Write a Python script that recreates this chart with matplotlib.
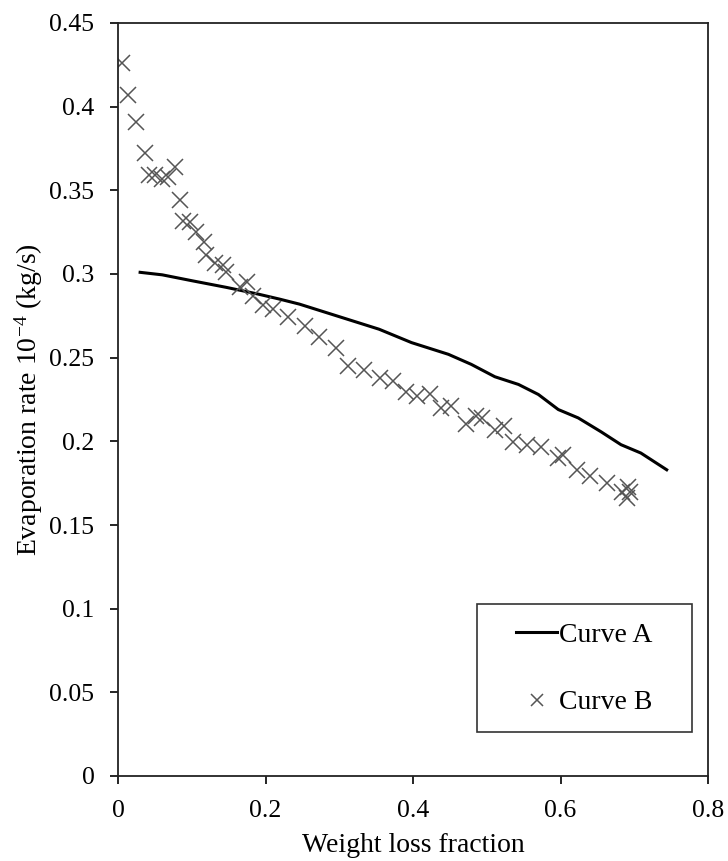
import matplotlib
matplotlib.use("Agg")
import matplotlib.pyplot as plt
from matplotlib.patches import Rectangle

plt.rcParams["font.family"] = ["Liberation Serif", "DejaVu Serif"]
plt.rcParams["mathtext.fontset"] = "custom"
plt.rcParams["mathtext.rm"] = "Liberation Serif"
plt.rcParams["mathtext.it"] = "Liberation Serif:italic"

# Curve A (solid line)
a_x = [0.03, 0.06, 0.10, 0.147, 0.19, 0.219, 0.246, 0.30, 0.354, 0.398, 0.448,
       0.479, 0.511, 0.543, 0.570, 0.597, 0.624, 0.655, 0.682, 0.709, 0.744]
a_y = [0.301, 0.2995, 0.296, 0.292, 0.288, 0.285, 0.282, 0.2745, 0.267, 0.259,
       0.252, 0.246, 0.2386, 0.234, 0.228, 0.219, 0.214, 0.2057, 0.198, 0.193, 0.183]

# Curve B (x markers)
b_x = [0.006, 0.014, 0.024, 0.036, 0.042, 0.050, 0.059, 0.068, 0.077, 0.084,
       0.088, 0.098, 0.106, 0.117, 0.119, 0.131, 0.142, 0.147, 0.165, 0.175,
       0.183, 0.196, 0.21, 0.23, 0.254, 0.272, 0.295, 0.312, 0.334, 0.355,
       0.373, 0.391, 0.405, 0.423, 0.438, 0.452, 0.472, 0.486, 0.493, 0.511,
       0.524, 0.536, 0.554, 0.574, 0.597, 0.604, 0.622, 0.640, 0.663, 0.683,
       0.690, 0.692, 0.694]
b_y = [0.426, 0.4067, 0.391, 0.3726, 0.3589, 0.3589, 0.3565, 0.3577, 0.3638, 0.344,
       0.3315, 0.331, 0.325, 0.319, 0.3116, 0.3068, 0.3056, 0.301, 0.292, 0.2955,
       0.2867, 0.2817, 0.2793, 0.2743, 0.2691, 0.2624, 0.2558, 0.2448, 0.2428, 0.2378,
       0.2358, 0.2292, 0.2273, 0.2285, 0.2199, 0.2209, 0.2105, 0.215, 0.2141, 0.2069,
       0.2089, 0.1999, 0.198, 0.1966, 0.19, 0.192, 0.183, 0.1794, 0.1751, 0.170,
       0.166, 0.173, 0.170]

x_ticks = [0, 0.2, 0.4, 0.6, 0.8]
y_ticks = [0, 0.05, 0.1, 0.15, 0.2, 0.25, 0.3, 0.35, 0.4, 0.45]

W, H = 728, 861
fig = plt.figure(figsize=(W / 100, H / 100), dpi=100)
ax = fig.add_axes([118 / W, 1 - 776 / H, 590 / W, 753 / H])

ax.plot(a_x, a_y, color="black", lw=2.2, label="Curve A")
ax.plot(b_x, b_y, ls="none", marker="x", ms=11, mew=1.1, color="#555555", label="Curve B")

ax.set_xlim(0, 0.8)
ax.set_ylim(0, 0.45)
ax.set_xticks(x_ticks)
ax.set_xticklabels([f"{t:g}" for t in x_ticks])
ax.set_yticks(y_ticks)
ax.set_yticklabels([f"{t:g}" for t in y_ticks])
ax.tick_params(direction="out", length=6, width=1.2, labelsize=18.5, pad=11)
for s in ax.spines.values():
    s.set_linewidth(1.3)
    s.set_color("#222222")

ax.set_xlabel("Weight loss fraction", fontsize=20, labelpad=8)
ax.set_ylabel(r"Evaporation rate 10$^{-4}$ (kg/s)", fontsize=20, labelpad=3)

# legend box drawn separately so padding can differ horizontally / vertically
fig.patches.append(Rectangle((477 / W, 1 - 732 / H), 215 / W, 128 / H,
                             transform=fig.transFigure, fill=False,
                             edgecolor="#333333", lw=1.2, zorder=5))
ax.legend(loc="center", bbox_to_anchor=(584 / W, 1 - 669 / H),
          bbox_transform=fig.transFigure, fontsize=20, frameon=False,
          borderpad=0, labelspacing=1.5, handlelength=1.5,
          handletextpad=0.05, markerscale=0.75)

fig.savefig("out.png", dpi=100)
